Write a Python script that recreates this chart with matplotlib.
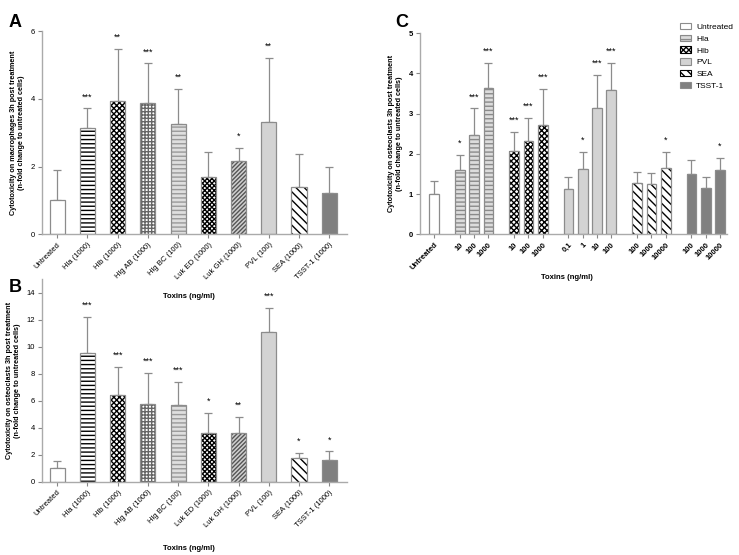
import matplotlib
matplotlib.use("Agg")
import matplotlib.pyplot as plt
from matplotlib.patches import Patch

plt.rcParams['font.family'] = ['Liberation Sans', 'DejaVu Sans']
plt.rcParams['hatch.linewidth'] = 1.0

# panel A / B data
toxins_ab = ['Untreated', 'Hla (1000)', 'Hlb (1000)', 'Hlg AB (1000)', 'Hlg BC (100)',
             'Luk ED (1000)', 'Luk GH (1000)', 'PVL (100)', 'SEA (1000)', 'TSST-1 (1000)']
styles_ab = ['untreated', 'hla', 'hlb', 'hlgab', 'hlgbc', 'luked', 'lukgh', 'pvl', 'sea', 'tsst']

mac_mean = [1.0, 3.15, 3.93, 3.87, 3.25, 1.70, 2.17, 3.32, 1.40, 1.22]
mac_top = [1.90, 3.72, 5.48, 5.05, 4.30, 2.42, 2.55, 5.20, 2.37, 2.00]
mac_sig = ['', '***', '**', '***', '**', '', '*', '**', '', '']

ost_mean = [1.0, 9.55, 6.45, 5.75, 5.70, 3.60, 3.62, 11.10, 1.75, 1.60]
ost_top = [1.50, 12.20, 8.50, 8.05, 7.40, 5.10, 4.80, 12.90, 2.15, 2.25]
ost_sig = ['', '***', '***', '***', '***', '*', '**', '***', '*', '*']

# panel C data
dose_labels = ['Untreated', '10', '100', '1000', '10', '100', '1000',
               '0,1', '1', '10', '100', '100', '1000', '10000', '100', '1000', '10000']
dose_groups = ['untreated', 'hla_c', 'hla_c', 'hla_c', 'hlb', 'hlb', 'hlb',
               'pvl', 'pvl', 'pvl', 'pvl', 'sea', 'sea', 'sea', 'tsst', 'tsst', 'tsst']
dose_slot = [0, 1.8, 2.8, 3.8, 5.6, 6.6, 7.6, 9.4, 10.4, 11.4, 12.4,
             14.2, 15.2, 16.2, 18, 19, 20]
dose_mean = [1.0, 1.60, 2.47, 3.65, 2.07, 2.32, 2.72, 1.13, 1.63, 3.15, 3.58,
             1.28, 1.24, 1.66, 1.50, 1.15, 1.60]
dose_top = [1.33, 1.98, 3.13, 4.27, 2.55, 2.90, 3.62, 1.43, 2.05, 3.97, 4.27,
            1.56, 1.53, 2.05, 1.85, 1.42, 1.90]
dose_sig = ['', '*', '***', '***', '***', '***', '***', '', '*', '***', '***',
            '', '', '*', '', '', '*']

legend_names = ['Untreated', 'Hla', 'Hlb', 'PVL', 'SEA', 'TSST-1']
legend_keys = ['untreated', 'hla_c', 'hlb', 'pvl', 'sea', 'tsst']

# face colour, hatch, hatch colour
STY = {
    'untreated': ('white', None, 'black'),
    'hla': ('white', '----', 'black'),
    'hla_c': ('#dcdcdc', '----', '#8a8a8a'),
    'hlb': ('white', 'xxxxxx', 'black'),
    'hlgab': ('white', '+++++', '#666666'),
    'hlgbc': ('#dedede', '----', '#999999'),
    'luked': ('white', 'xxxxxxx', 'black'),
    'lukgh': ('#d0d0d0', '////////', '#555555'),
    'pvl': ('#d3d3d3', None, 'black'),
    'sea': ('white', '\\\\\\\\', 'black'),
    'tsst': ('#808080', None, 'black'),
}
GREY = '#8c8c8c'


def draw_bars(ax, xs, means, tops, sigs, keys, width):
    for x, m, t, s, k in zip(xs, means, tops, sigs, keys):
        fc, h, hc = STY[k]
        ax.bar(x, m, width, color=fc, hatch=h, edgecolor=hc, linewidth=0, zorder=2)
        ax.bar(x, m, width, fill=False, edgecolor=GREY, linewidth=0.9, zorder=3)
        ax.errorbar(x, m, yerr=[[0], [t - m]], color=GREY, capsize=3,
                    elinewidth=0.9, capthick=0.9, zorder=1)
        if s:
            ax.annotate(s, (x, t), xytext=(0, 5), textcoords='offset points',
                        ha='center', va='bottom', fontsize=6.5)


def style_axes(ax, ylabel):
    ax.patch.set_alpha(0)
    for sp in ['top', 'right']:
        ax.spines[sp].set_visible(False)
    for sp in ['left', 'bottom']:
        ax.spines[sp].set_color('#aaaaaa')
        ax.spines[sp].set_linewidth(1.0)
    ax.tick_params(axis='both', colors='#888888', labelcolor='black', labelsize=5.5,
                   length=3, width=0.8, pad=2)
    ax.set_ylabel(ylabel, fontsize=5.2, fontweight='bold', labelpad=4)


fig = plt.figure(figsize=(7.39, 5.55), dpi=100)

axA = fig.add_axes([0.057, 0.578, 0.413, 0.366])
xs = list(range(len(toxins_ab)))
draw_bars(axA, xs, mac_mean, mac_top, mac_sig, styles_ab, 0.5)
axA.set_xlim(-0.5, 9.6)
axA.set_ylim(0, 6)
axA.set_yticks([0, 2, 4, 6])
axA.set_xticks(xs)
axA.set_xticklabels(toxins_ab, rotation=45, ha='right', rotation_mode='anchor', fontsize=5.2)
style_axes(axA, 'Cytotoxicity on macrophages 3h post treatment\n(n-fold change to untreated cells)')
axA.set_xlabel('Toxins (ng/ml)', fontsize=5.5, fontweight='bold')
axA.xaxis.set_label_coords(0.48, -0.29)

axB = fig.add_axes([0.057, 0.132, 0.413, 0.365])
draw_bars(axB, xs, ost_mean, ost_top, ost_sig, styles_ab, 0.5)
axB.set_xlim(-0.5, 9.6)
axB.set_ylim(0, 15)
axB.set_yticks(range(0, 15, 2))
axB.set_xticks(xs)
axB.set_xticklabels(toxins_ab, rotation=45, ha='right', rotation_mode='anchor', fontsize=5.2)
style_axes(axB, 'Cytotoxicity on osteoclasts 3h post treatment\n(n-fold change to untreated cells)')
axB.set_xlabel('Toxins (ng/ml)', fontsize=5.5, fontweight='bold')
axB.xaxis.set_label_coords(0.48, -0.31)

axC = fig.add_axes([0.568, 0.578, 0.416, 0.362])
draw_bars(axC, dose_slot, dose_mean, dose_top, dose_sig, dose_groups, 0.68)
axC.set_xlim(-1.0, 20.5)
axC.set_ylim(0, 5)
axC.set_yticks(range(6))
axC.set_xticks(dose_slot)
axC.set_xticklabels(dose_labels, rotation=45, ha='right', rotation_mode='anchor',
                    fontsize=5.2, fontweight='bold')
style_axes(axC, 'Cytotoxicity on osteoclasts 3h post treatment\n(n-fold change to untreated cells)')
for lab in axC.get_yticklabels():
    lab.set_fontweight('bold')
axC.set_xlabel('Toxins (ng/ml)', fontsize=5.5, fontweight='bold')
axC.xaxis.set_label_coords(0.48, -0.2)

handles = []
for k in legend_keys:
    fc, h, hc = STY[k]
    handles.append(Patch(facecolor=fc, hatch=h, edgecolor=GREY if h is None else hc, linewidth=0.8))
fig.legend(handles, legend_names, loc='upper left', bbox_to_anchor=(0.915, 0.965),
           frameon=False, fontsize=6, handlelength=1.4, handleheight=0.8,
           labelspacing=0.45, handletextpad=0.6, borderaxespad=0)

fig.text(0.012, 0.975, 'A', fontsize=13, fontweight='bold', va='top')
fig.text(0.012, 0.497, 'B', fontsize=13, fontweight='bold', va='top')
fig.text(0.535, 0.975, 'C', fontsize=13, fontweight='bold', va='top')

fig.savefig('out.png', dpi=100)
